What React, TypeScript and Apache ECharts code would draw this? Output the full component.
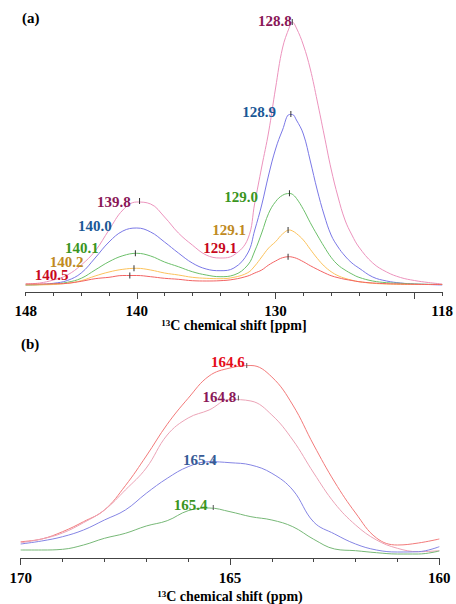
import React, { useEffect, useRef } from 'react';
import * as echarts from 'echarts';

// ---------- Panel (a) data ----------
const topPpm = [148, 147, 146, 145, 144, 143, 142, 141, 140, 139, 138, 137, 136, 135, 134, 133, 132,
  131.5, 131, 130.5, 130, 129.5, 129, 128.8, 128.5, 128, 127.5, 127, 126.5, 126, 125.5, 125, 124.5, 124,
  123, 122, 121, 120, 119, 118];
const topPink = [1, 2, 5, 10, 20, 34, 55, 75, 83, 81, 68, 52, 40, 30, 27, 30, 46,
  82, 118, 153, 197, 237, 258, 263, 257, 240, 216, 184, 150, 116, 88, 65, 50, 38,
  22, 13, 7.5, 4.5, 2.5, 1];
const topBlue = [0, 0.5, 1.7, 4.5, 12, 27, 43, 54, 57, 53, 43, 32, 22, 16, 14.3, 17, 32,
  55, 80, 110, 136, 155, 170.5, 170.5, 165, 151, 124, 95, 70, 50, 38, 29, 22, 17,
  8, 4, 2, 1, 0.5, 0];
const topGreen = [0, 0.3, 1, 2.7, 6.7, 15, 23.3, 29.3, 31.7, 29, 23, 18.3, 13.3, 10, 8.3, 10, 20,
  34, 52, 71.7, 83.3, 89.7, 91.5, 90.8, 86.7, 75.7, 62.3, 50, 38.3, 27.7, 20, 15, 11, 7.7,
  4, 2.3, 1.7, 1, 0.7, 0.5];
const topOrange = [0, 0.2, 0.5, 1.7, 4.3, 9, 13, 15.7, 16.7, 15, 12, 10, 7.7, 6.7, 6.3, 7.7, 12.3,
  19, 28, 37, 43.3, 51, 55, 54.2, 51.5, 45, 35.7, 26.7, 19, 13.3, 9.3, 6.7, 4.8, 3.3,
  1.7, 1, 0.6, 0.5, 0.5, 0.5];
const topRed = [1, 1, 1.2, 1.7, 3.7, 6.3, 7.7, 9.5, 9.5, 8.3, 6.7, 5.7, 4.3, 4, 4.3, 5.7, 9,
  12, 15, 20, 24, 27.3, 28.3, 27.9, 26.7, 23.3, 19.3, 15.7, 12.3, 9.3, 7.3, 5.7, 4.5, 3.3,
  2, 1.3, 1, 0.7, 0.5, 0.5];
const topSeries = [topPink, topBlue, topGreen, topOrange, topRed];
// peak positions (ppm) and heights, per series: [right peak, left peak]
const topPeakPpm = [[128.8, 139.8], [128.9, 140.0], [129.0, 140.1], [129.1, 140.2], [129.1, 140.5]];
const topPeakValue = [[263, 84], [171, 57], [91.7, 31.7], [55, 16.7], [28.3, 9.5]];
const topTickLabels = [148, 140, 130, 118];
const topMajorTicks = [140, 130, 120];

// ---------- Panel (b) data ----------
const bottomPpm = [170, 169.5, 169, 168.5, 168, 167.5, 167, 166.5, 166, 165.5, 165,
  164.5, 164, 163.5, 163, 162.5, 162, 161.5, 161, 160.5, 160];
const bottomRed = [15.3, 18, 25.3, 35.3, 47, 71.3, 101, 132.7, 158.7, 181, 189,
  191.5, 180, 152, 112, 75, 44, 19, 12, 14, 18];
const bottomPink = [14.3, 18, 24, 34.3, 47, 67, 89, 122, 139, 147, 157.5,
  156, 142, 117, 84, 53.7, 32, 17, 8.7, 5.3, 6.3];
const bottomBlue = [13, 16, 20.3, 27, 37, 47, 63.7, 78.7, 90.3, 95.3, 94.3,
  92, 83.7, 67, 35, 23, 13, 7, 5, 5.3, 10.3];
const bottomGreen = [7, 7, 7.7, 12, 18.7, 23.7, 31, 36.3, 46.3, 49, 45.3,
  40.3, 37, 30.3, 17.7, 8, 6.3, 4.3, 3, 3, 6];
const bottomSeries = [bottomRed, bottomPink, bottomBlue, bottomGreen];
const bottomPeakPpm = [164.6, 164.8, 165.4, 165.4];
const bottomPeakValue = [191.5, 159, 95.5, 49.5];
const bottomTickLabels = [170, 165, 160];

// ---------- styles ----------
const FONT = 'Liberation Serif, serif';
const topLineColors = ['#ec93bd', '#7a78e6', '#6cbf6a', '#fbc25c', '#f26363'];
const topLabelColors = ['#8a1858', '#1a5896', '#3a951e', '#c08a22', '#c8081c'];
const topLabelOffsets = [
  [[0, -1.3], [-8.4, 1.3]],
  [[-14.3, -2.3], [-24.6, -2]],
  [[-30.9, 4], [-36.2, -5]],
  [[-41.5, 0], [-49.9, -6.6]],
  [[-50.5, -8.4], [-60.7, -0.5]],
];
const topMarkerShown = [[true, true], [true, false], [true, true], [true, true], [true, true]];
const bottomLineColors = ['#f27a7a', '#eba3b6', '#8585e4', '#77b877'];
const bottomLabelColors = ['#e50c1a', '#8a1858', '#375b96', '#3a951e'];
const bottomLabelOffsets = [[-1.5, -3.5], [-1.5, -1], [4, -2], [-5.3, -3]];

const axisColor = '#444';
const labelStyle = { fontFamily: FONT, fontWeight: 'bold' as const, fontSize: 15, color: '#000' };
const nameRich = {
  sup: { fontFamily: FONT, fontWeight: 'bold' as const, fontSize: 9, color: '#000', verticalAlign: 'top' as const },
  b: { fontFamily: FONT, fontWeight: 'bold' as const, fontSize: 14, color: '#000' },
};

export default function App() {
  const ref = useRef<HTMLDivElement>(null);
  useEffect(() => {
    if (!ref.current) return;
    const chart = echarts.init(ref.current, undefined, { renderer: 'svg' });

    const series: any[] = [];
    topSeries.forEach((vals, i) => {
      series.push({
        type: 'line', xAxisIndex: 0, yAxisIndex: 0, showSymbol: false, smooth: 0.4, silent: true,
        lineStyle: { color: topLineColors[i], width: 1 },
        data: topPpm.map((x, j) => [x, vals[j]]),
      });
    });
    const topMarks: any[] = [];
    topPeakPpm.forEach((pair, i) => {
      pair.forEach((p, k) => {
        topMarks.push({
          value: [p, topPeakValue[i][k]],
          itemStyle: { color: topMarkerShown[i][k] ? '#333' : 'rgba(0,0,0,0)', opacity: 1 },
          label: {
            show: true, position: 'left', distance: 0, formatter: p.toFixed(1),
            color: topLabelColors[i], offset: topLabelOffsets[i][k],
            fontFamily: FONT, fontWeight: 'bold', fontSize: 15,
          },
        });
      });
    });
    series.push({
      type: 'scatter', xAxisIndex: 0, yAxisIndex: 0, symbol: 'rect', symbolSize: [1, 6], silent: true,
      clip: false, z: 5, itemStyle: { opacity: 1 }, data: topMarks,
    });

    bottomSeries.forEach((vals, i) => {
      series.push({
        type: 'line', xAxisIndex: 2, yAxisIndex: 1, showSymbol: false, smooth: 0.4, silent: true,
        lineStyle: { color: bottomLineColors[i], width: 1 },
        data: bottomPpm.map((x, j) => [x, vals[j]]),
      });
    });
    series.push({
      type: 'scatter', xAxisIndex: 2, yAxisIndex: 1, symbol: 'rect', symbolSize: [1, 5], silent: true,
      clip: false, z: 5, itemStyle: { color: '#555', opacity: 1 },
      data: bottomPeakPpm.map((p, i) => ({
        value: [p, bottomPeakValue[i]],
        label: {
          show: true, position: 'left', distance: 0, formatter: p.toFixed(1),
          color: bottomLabelColors[i], offset: bottomLabelOffsets[i],
          fontFamily: FONT, fontWeight: 'bold', fontSize: 15,
        },
      })),
    });

    chart.setOption({
      animation: false,
      backgroundColor: '#fff',
      grid: [
        { left: 25.7, right: 12.4, top: 12, bottom: 312 },
        { left: 20.7, right: 16.7, top: 357, bottom: 46 },
      ],
      xAxis: [
        {
          gridIndex: 0, type: 'value', min: 118, max: 148, inverse: true, interval: 2,
          axisLine: { show: true, onZero: false, lineStyle: { color: axisColor, width: 1 } },
          axisTick: { show: true, length: 4, lineStyle: { color: axisColor } },
          axisLabel: {
            ...labelStyle, margin: 11,
            formatter: (v: number) => (topTickLabels.includes(v) ? String(v) : ''),
          },
          splitLine: { show: false },
          name: '{sup|13}{b|C chemical shift [ppm]}', nameLocation: 'middle', nameGap: 26,
          nameTextStyle: { rich: nameRich },
        },
        {
          gridIndex: 0, type: 'value', min: 118, max: 148, inverse: true, interval: 2, position: 'bottom', offset: 0,
          axisLine: { show: false, onZero: false },
          axisTick: { show: true, length: 7, customValues: topMajorTicks, lineStyle: { color: axisColor } },
          axisLabel: { show: false }, splitLine: { show: false },
        },
        {
          gridIndex: 1, type: 'value', min: 160, max: 170, inverse: true, interval: 5,
          axisLine: { show: true, onZero: false, lineStyle: { color: axisColor, width: 1 } },
          axisTick: { show: true, length: 7, lineStyle: { color: axisColor } },
          minorTick: { show: true, splitNumber: 5, length: 4, lineStyle: { color: axisColor } },
          axisLabel: {
            ...labelStyle, margin: 12.5,
            formatter: (v: number) => (bottomTickLabels.includes(v) ? String(v) : ''),
          },
          splitLine: { show: false },
          name: '{sup|13}{b|C chemical shift (ppm)}', nameLocation: 'middle', nameGap: 31,
          nameTextStyle: { rich: nameRich },
        },
      ],
      yAxis: [
        { gridIndex: 0, type: 'value', min: -7, max: 273, show: false, splitLine: { show: false } },
        { gridIndex: 1, type: 'value', min: -1, max: 200, show: false, splitLine: { show: false } },
      ],
      graphic: [
        { type: 'text', x: 22, y: 17.5, style: { text: '(a)', fontFamily: FONT, fontWeight: 'bold', fontSize: 15, fill: '#000', verticalAlign: 'middle' } },
        { type: 'text', x: 21, y: 343.5, style: { text: '(b)', fontFamily: FONT, fontWeight: 'bold', fontSize: 15, fill: '#000', verticalAlign: 'middle' } },
      ],
      series,
    });
    return () => chart.dispose();
  }, []);
  return <div ref={ref} style={{ position: 'absolute', left: 0, top: 0, width: 456, height: 604 }} />;
}
